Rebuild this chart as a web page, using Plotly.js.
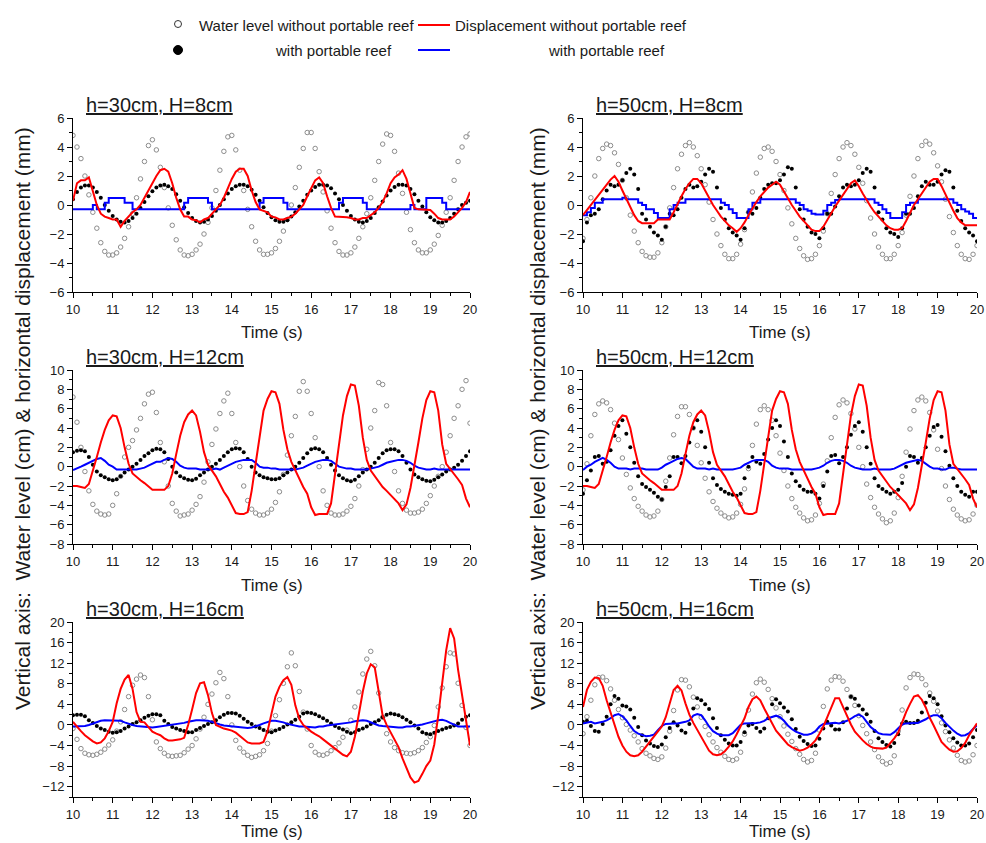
<!DOCTYPE html>
<html>
<head>
<meta charset="utf-8">
<script src="https://cdn.plot.ly/plotly-3.0.1.min.js"></script>
<style>
  html, body { margin: 0; padding: 0; background: #fff; }
  #chart { width: 986px; height: 843px; }
</style>
</head>
<body>
<div id="chart"></div>
<script>
// Sampling instants (s)
const time = [
  10.0,10.1,10.2,10.3,10.4,10.5,10.6,10.7,10.8,10.9,
  11.0,11.1,11.2,11.3,11.4,11.5,11.6,11.7,11.8,11.9,
  12.0,12.1,12.2,12.3,12.4,12.5,12.6,12.7,12.8,12.9,
  13.0,13.1,13.2,13.3,13.4,13.5,13.6,13.7,13.8,13.9,
  14.0,14.1,14.2,14.3,14.4,14.5,14.6,14.7,14.8,14.9,
  15.0,15.1,15.2,15.3,15.4,15.5,15.6,15.7,15.8,15.9,
  16.0,16.1,16.2,16.3,16.4,16.5,16.6,16.7,16.8,16.9,
  17.0,17.1,17.2,17.3,17.4,17.5,17.6,17.7,17.8,17.9,
  18.0,18.1,18.2,18.3,18.4,18.5,18.6,18.7,18.8,18.9,
  19.0,19.1,19.2,19.3,19.4,19.5,19.6,19.7,19.8,19.9,
  20.0];

// ---------- h=30cm, H=8cm ----------
const wl_h30_H8 = [
  4.8,4.0,3.2,2.0,0.7,-0.5,-1.6,-2.6,-3.2,-3.45,
  -3.45,-3.3,-2.9,-2.3,-1.5,-0.6,0.5,1.8,3.0,4.1,
  4.5,3.8,2.6,1.2,-0.2,-1.4,-2.4,-3.1,-3.45,-3.5,
  -3.4,-3.1,-2.7,-2.0,-1.2,-0.2,1.0,2.4,3.7,4.7,
  4.8,3.8,2.4,1.0,-0.3,-1.5,-2.5,-3.1,-3.4,-3.4,
  -3.3,-3.0,-2.5,-1.8,-1.0,0.0,1.2,2.6,3.9,5.0,
  5.0,3.9,2.3,0.9,-0.4,-1.6,-2.6,-3.2,-3.45,-3.45,
  -3.3,-2.9,-2.3,-1.5,-0.6,0.5,1.7,3.0,4.2,4.9,
  4.8,3.7,2.2,0.8,-0.5,-1.7,-2.6,-3.1,-3.3,-3.3,
  -3.1,-2.7,-2.1,-1.4,-0.5,0.5,1.7,3.0,4.0,4.7,
  4.9];
const wlReef_h30_H8 = [
  0.4,0.9,1.2,1.35,1.35,1.2,0.9,0.5,0.0,-0.4,
  -0.75,-1.0,-1.15,-1.2,-1.1,-0.9,-0.6,-0.2,0.2,0.6,
  0.95,1.2,1.35,1.4,1.3,1.1,0.75,0.3,-0.15,-0.55,
  -0.9,-1.1,-1.2,-1.15,-1.0,-0.75,-0.4,0.0,0.4,0.8,
  1.1,1.3,1.4,1.4,1.3,1.05,0.7,0.3,-0.15,-0.55,
  -0.85,-1.05,-1.15,-1.15,-1.05,-0.8,-0.5,-0.1,0.3,0.7,
  1.0,1.25,1.4,1.4,1.35,1.15,0.8,0.4,0.0,-0.4,
  -0.75,-1.0,-1.15,-1.2,-1.1,-0.9,-0.55,-0.15,0.25,0.65,
  1.0,1.25,1.4,1.4,1.35,1.1,0.75,0.3,-0.1,-0.5,
  -0.85,-1.05,-1.2,-1.2,-1.1,-0.9,-0.6,-0.3,0.0,0.15,
  0.3];
const disp_h30_H8 = [
  0.3,1.5,1.7,1.7,1.9,0.9,0.0,-0.6,-0.8,-0.9,
  -1.0,-1.0,-1.5,-1.1,-0.8,-0.5,-0.3,0.0,0.5,1.0,
  1.6,2.0,2.4,2.5,2.3,1.5,0.5,-0.3,-0.8,-0.8,
  -1.0,-1.05,-1.2,-1.0,-0.9,-0.6,-0.3,0.0,0.5,1.2,
  1.8,2.3,2.5,2.5,2.0,1.0,0.2,-0.3,-0.4,-0.5,
  -0.8,-0.85,-1.0,-1.0,-0.9,-0.8,-0.6,-0.3,0.0,0.6,
  1.2,1.7,1.9,1.5,0.6,-0.2,-0.8,-0.8,-0.85,-0.85,
  -0.9,-1.0,-1.0,-0.9,-0.9,-0.7,-0.5,-0.2,0.2,0.8,
  1.5,1.9,2.1,2.4,1.8,0.8,-0.2,-0.3,-0.3,-0.3,
  -0.35,-0.6,-0.9,-1.0,-1.0,-1.0,-0.8,-0.5,-0.2,0.2,
  0.9];
const dispReef_h30_H8 = [
  -0.3,-0.3,-0.3,-0.3,-0.3,0.0,-0.3,-0.3,0.15,0.48,
  0.48,0.48,0.48,0.15,0.15,-0.3,-0.3,-0.3,-0.3,-0.3,
  -0.3,-0.3,-0.3,-0.3,-0.3,-0.3,-0.3,-0.3,0.15,0.48,
  0.48,0.48,0.48,0.48,0.15,-0.3,-0.3,-0.3,-0.3,-0.3,
  -0.3,-0.3,-0.3,-0.3,-0.3,-0.3,-0.3,0.15,0.48,0.48,
  0.48,0.48,0.48,0.15,-0.3,-0.3,-0.3,-0.3,-0.3,-0.3,
  -0.3,-0.3,-0.3,-0.3,-0.3,-0.3,-0.3,0.15,0.48,0.48,
  0.48,0.48,0.48,0.15,-0.3,-0.3,-0.3,-0.3,-0.3,-0.3,
  -0.3,-0.3,-0.3,-0.3,-0.3,0.0,-0.3,-0.3,-0.3,0.48,
  0.48,0.48,0.48,0.15,-0.3,-0.3,-0.3,-0.3,-0.3,-0.3,
  -0.3];

// ---------- h=50cm, H=8cm ----------
const wl_h50_H8 = [
  -2.3,-1.0,0.5,2.0,3.2,3.9,4.2,4.1,3.6,2.8,
  1.7,0.5,-0.7,-1.8,-2.6,-3.2,-3.5,-3.6,-3.6,-3.3,
  -2.6,-1.5,-0.2,1.2,2.5,3.5,4.1,4.3,4.0,3.4,
  2.5,1.4,0.2,-1.0,-2.0,-2.8,-3.4,-3.7,-3.7,-3.4,
  -2.7,-1.7,-0.5,0.9,2.2,3.3,3.9,4.0,3.7,3.0,
  2.1,1.0,-0.2,-1.3,-2.3,-3.0,-3.5,-3.75,-3.7,-3.4,
  -2.8,-1.8,-0.6,0.8,2.1,3.2,4.0,4.3,4.1,3.5,
  2.6,1.5,0.3,-0.9,-2.0,-2.9,-3.4,-3.7,-3.7,-3.4,
  -2.8,-1.9,-0.7,0.6,2.0,3.2,4.1,4.4,4.2,3.6,
  2.7,1.6,0.4,-0.8,-1.9,-2.8,-3.4,-3.7,-3.75,-3.4,
  -2.8];
const wlReef_h50_H8 = [
  -2.5,-1.2,-0.7,-0.6,-0.3,0.4,1.0,1.4,1.3,1.4,
  1.7,2.2,2.5,2.1,1.1,-0.6,-1.0,-1.5,-1.9,-2.1,
  -2.4,-1.5,-0.6,-0.7,-0.3,0.5,1.1,1.4,1.2,1.3,
  1.6,2.1,2.5,2.3,1.2,-0.2,-1.0,-1.6,-1.9,-2.1,
  -2.4,-1.6,-0.5,-0.6,-0.2,0.5,1.1,1.4,1.5,1.5,
  1.7,2.1,2.6,2.5,1.2,-0.3,-1.0,-1.5,-1.9,-2.0,
  -2.3,-1.6,-0.6,-0.6,-0.1,0.6,1.2,1.4,1.3,1.4,
  1.7,2.2,2.5,2.3,1.2,-0.5,-1.0,-1.6,-1.9,-2.0,
  -2.2,-1.6,-0.6,-0.6,-0.2,0.6,1.3,1.6,1.4,1.4,
  1.6,2.1,2.4,2.3,1.2,-0.4,-1.1,-1.6,-1.9,-2.1,
  -2.5];
const disp_h50_H8 = [
  -0.7,-0.35,0.0,0.35,0.7,1.05,1.4,1.75,2.0,1.6,
  1.0,0.4,-0.2,-0.7,-1.1,-1.25,-1.25,-1.25,-1.25,-1.0,
  -1.0,-1.0,-1.0,-0.5,0.1,0.6,1.1,1.5,1.8,1.8,
  1.5,1.0,0.4,0.0,-0.4,-0.8,-1.1,-1.4,-1.6,-1.85,
  -1.6,-1.2,-0.7,-0.2,0.2,0.6,0.9,1.2,1.4,1.6,
  1.4,0.9,0.4,0.0,-0.4,-0.8,-1.1,-1.4,-1.7,-1.8,
  -1.8,-1.5,-1.0,-0.5,-0.1,0.3,0.7,1.1,1.5,1.7,
  1.3,0.8,0.3,-0.1,-0.5,-0.8,-1.1,-1.4,-1.6,-1.7,
  -1.7,-1.6,-1.1,-0.5,0.0,0.4,0.8,1.2,1.6,1.8,
  1.8,1.3,0.7,0.1,-0.4,-0.9,-1.2,-1.4,-1.4,-1.4,
  -1.4];
const dispReef_h50_H8 = [
  -0.7,-0.5,-0.2,0.15,0.15,0.4,0.4,0.4,0.4,0.4,
  0.5,0.4,0.4,0.4,0.15,0.0,-0.3,-0.3,-0.55,-0.9,
  -0.9,-0.9,-0.3,0.0,0.15,0.15,0.4,0.4,0.4,0.4,
  0.4,0.4,0.4,0.4,0.4,0.15,0.0,-0.3,-0.55,-0.9,
  -0.9,-0.9,-0.3,0.15,0.15,0.4,0.4,0.4,0.4,0.4,
  0.4,0.4,0.4,0.4,0.15,0.0,-0.3,-0.4,-0.6,-0.65,
  -0.65,-0.4,0.0,0.15,0.35,0.4,0.4,0.4,0.4,0.4,
  0.4,0.4,0.4,0.4,0.15,0.0,-0.3,-0.55,-0.9,-0.9,
  -0.9,-0.5,0.0,0.15,0.15,0.4,0.4,0.4,0.4,0.4,
  0.4,0.4,0.4,0.4,0.15,0.0,-0.3,-0.45,-0.6,-0.9,
  -0.9];

// ---------- h=30cm, H=12cm ----------
const wl_h30_H12 = [
  7.2,4.6,2.0,-0.5,-2.5,-3.9,-4.6,-4.9,-5.0,-4.9,
  -4.0,-2.8,-1.0,1.0,2.0,2.7,3.8,5.0,6.5,7.5,
  7.7,5.6,2.5,0.5,-2.0,-3.8,-4.6,-5.1,-5.0,-4.9,
  -4.5,-3.9,-3.1,-1.6,0.5,2.3,3.9,5.5,6.8,7.6,
  5.5,2.5,0.0,-2.0,-3.5,-4.4,-4.8,-5.0,-5.0,-4.8,
  -4.4,-3.7,-2.6,-0.8,1.2,3.2,5.2,7.8,8.8,7.8,
  5.5,3.0,0.0,-2.5,-4.0,-4.8,-5.0,-5.0,-4.9,-4.6,
  -4.1,-3.3,-2.0,-0.3,1.8,4.0,5.8,8.7,8.5,6.3,
  2.5,-0.5,-2.5,-3.8,-4.5,-4.8,-4.8,-4.7,-4.4,-3.8,
  -3.0,-2.0,-1.0,0.0,1.5,3.2,5.0,6.3,8.0,8.9,
  4.5];
const wlReef_h30_H12 = [
  1.5,1.65,1.7,1.6,1.0,0.2,-0.5,-0.9,-1.1,-1.3,
  -1.4,-1.3,-1.0,-0.6,-0.3,0.0,0.3,0.7,1.1,1.4,
  1.7,1.85,1.8,1.5,0.8,0.0,-0.6,-1.0,-1.2,-1.35,
  -1.4,-1.25,-0.9,-0.6,-0.3,0.0,0.3,0.7,1.1,1.5,
  1.8,1.9,1.85,1.5,0.8,0.0,-0.6,-0.9,-1.1,-1.2,
  -1.3,-1.3,-1.2,-0.9,-0.6,-0.3,0.0,0.4,0.9,1.4,
  1.8,1.9,1.8,1.5,0.9,0.2,-0.4,-0.9,-1.2,-1.4,
  -1.5,-1.35,-1.0,-0.6,-0.3,0.0,0.4,0.9,1.4,1.7,
  1.8,1.8,1.6,1.1,0.4,-0.3,-0.8,-1.1,-1.3,-1.45,
  -1.5,-1.35,-1.1,-0.8,-0.5,-0.3,-0.1,0.2,0.6,1.1,
  1.6];
// Displacement without the reef for H=12cm (same record in both depth panels)
const disp_H12 = [
  -2.0,-2.0,-2.1,-2.2,-1.8,-0.5,1.0,2.5,3.8,4.8,
  5.3,5.2,4.0,2.0,0.3,-0.7,-1.1,-1.4,-1.7,-2.1,
  -2.4,-2.4,-2.4,-2.4,-2.0,-0.7,1.3,3.2,4.6,5.4,
  5.8,5.3,3.6,1.5,0.2,-0.4,-1.0,-1.8,-2.6,-3.2,
  -4.0,-4.8,-4.9,-4.9,-4.7,-2.5,0.3,3.1,5.8,7.0,
  7.8,7.7,6.5,3.8,1.8,0.5,-0.4,-1.3,-2.1,-2.8,
  -4.2,-5.0,-4.9,-4.9,-4.9,-3.8,-0.7,2.3,5.3,7.3,
  8.5,8.4,6.3,3.0,0.7,-0.4,-1.0,-1.6,-2.1,-2.5,
  -2.9,-3.3,-3.8,-4.5,-3.9,-2.2,0.0,2.5,5.0,6.9,
  7.8,7.7,5.8,2.3,0.3,-0.2,-0.8,-1.3,-1.9,-3.3,
  -4.2];
const dispReef_h30_H12 = [
  -0.35,-0.2,0.0,0.2,0.4,0.6,0.8,0.9,0.6,0.2,
  0.0,-0.3,-0.3,-0.35,-0.35,-0.3,-0.3,-0.2,-0.1,0.1,
  0.3,0.5,0.5,0.7,0.9,0.8,0.5,0.1,-0.1,-0.2,
  -0.2,-0.2,-0.3,-0.3,-0.3,-0.3,-0.2,-0.3,-0.1,0.1,
  0.3,0.5,0.6,0.7,0.7,0.7,0.4,0.0,-0.1,-0.1,
  -0.2,-0.2,-0.3,-0.3,-0.3,-0.35,-0.3,-0.2,-0.1,0.1,
  0.3,0.5,0.6,0.7,0.7,0.6,0.3,0.0,-0.1,-0.2,
  -0.2,-0.3,-0.3,-0.3,-0.3,-0.2,-0.1,0.0,0.2,0.4,
  0.5,0.6,0.7,0.7,0.6,0.4,0.1,-0.1,-0.2,-0.3,
  -0.3,-0.2,-0.3,-0.3,-0.3,-0.3,-0.3,-0.3,-0.3,-0.3,
  -0.3];

// ---------- h=50cm, H=12cm ----------
const wl_h50_H12 = [
  -2.4,0.3,3.2,5.4,6.5,6.8,6.6,5.9,4.5,2.8,
  0.9,-0.8,-2.2,-3.3,-4.1,-4.6,-5.0,-5.2,-5.1,-4.6,
  -3.4,-1.5,0.9,3.3,5.2,6.2,6.2,5.4,4.0,2.2,
  0.4,-1.2,-2.6,-3.6,-4.3,-4.8,-5.1,-5.3,-5.2,-4.8,
  -3.9,-2.3,-0.2,2.2,4.4,5.9,6.3,5.9,4.8,3.2,
  1.4,-0.4,-2.0,-3.3,-4.2,-4.8,-5.3,-5.6,-5.5,-5.0,
  -3.8,-1.8,0.6,3.0,5.1,6.4,6.9,6.6,5.5,3.9,
  2.0,0.0,-1.8,-3.2,-4.2,-4.9,-5.4,-5.8,-5.6,-4.8,
  -3.2,-1.0,1.5,3.9,5.8,6.9,7.2,6.8,5.6,3.8,
  1.8,-0.2,-2.0,-3.4,-4.4,-5.0,-5.4,-5.6,-5.5,-4.9,
  -4.0];
const wlReef_h50_H12 = [
  -2.8,-1.4,-0.4,1.0,1.1,0.3,0.5,1.7,3.2,4.2,
  4.8,3.4,2.0,0.4,-1.0,-1.8,-2.1,-2.4,-2.7,-3.1,
  -3.4,-2.1,-1.0,1.0,1.0,0.35,1.1,2.5,4.0,4.8,
  3.6,2.0,0.4,-1.2,-1.9,-2.3,-2.6,-2.8,-2.9,-3.0,
  -2.8,-1.2,0.0,1.0,0.5,0.3,1.3,2.8,4.0,4.8,
  4.2,2.6,1.0,-0.7,-1.5,-2.0,-2.4,-2.6,-2.6,-2.8,
  -3.3,-2.0,-0.5,1.1,1.2,0.35,1.0,2.0,3.3,4.2,
  4.6,3.6,2.0,0.3,-1.2,-2.0,-2.3,-2.6,-2.8,-2.6,
  -2.4,-1.7,0.0,1.1,1.0,0.4,0.9,2.0,3.2,4.1,
  4.3,3.1,1.6,0.1,-1.2,-2.0,-2.6,-2.9,-3.1,-2.6,
  -2.6];
const dispReef_h50_H12 = [
  -0.35,0.0,0.2,0.5,0.7,0.9,0.7,0.4,0.0,-0.2,
  -0.2,-0.2,-0.3,-0.2,-0.2,-0.2,-0.3,-0.3,-0.3,-0.3,
  -0.1,0.2,0.4,0.6,0.8,0.9,0.8,0.4,0.0,-0.2,
  -0.2,-0.2,-0.3,-0.2,-0.3,-0.3,-0.3,-0.3,-0.3,-0.2,
  -0.1,0.2,0.4,0.6,0.7,0.7,0.7,0.5,0.1,-0.1,
  -0.2,-0.2,-0.2,-0.3,-0.3,-0.3,-0.3,-0.3,-0.3,-0.2,
  -0.1,0.1,0.4,0.6,0.7,0.7,0.6,0.4,0.1,-0.1,
  -0.2,-0.3,-0.3,-0.3,-0.2,-0.3,-0.3,-0.3,-0.3,-0.2,
  0.0,0.2,0.4,0.5,0.6,0.7,0.6,0.3,0.0,-0.2,
  -0.2,-0.3,-0.3,-0.1,-0.1,-0.2,-0.3,-0.3,-0.3,-0.3,
  -0.3];

// ---------- h=30cm, H=16cm ----------
const wl_h30_H16 = [
  -0.7,-2.8,-4.6,-5.5,-5.8,-5.9,-5.7,-5.3,-4.7,-3.9,
  -2.9,-1.2,0.6,3.0,5.5,7.7,8.9,9.7,9.2,5.5,
  1.0,-3.3,-4.6,-5.5,-6.0,-6.1,-6.0,-5.9,-5.4,-4.7,
  -4.0,-2.7,-0.8,1.5,4.0,6.0,8.2,10.2,9.0,5.5,
  0.0,-3.0,-4.5,-5.3,-5.9,-6.3,-6.1,-5.8,-5.0,-3.6,
  -1.2,1.8,4.9,8.1,11.3,14.0,11.5,6.5,2.5,-0.8,
  -4.0,-5.3,-5.8,-5.9,-5.6,-5.0,-4.4,-3.5,-2.4,-1.0,
  0.9,3.5,6.4,9.9,12.8,14.3,11.5,6.2,1.5,-1.7,
  -3.3,-4.4,-5.0,-5.4,-5.5,-5.6,-5.4,-5.0,-4.4,-3.4,
  -2.3,-0.1,3.5,7.2,11.3,14.0,13.8,8.1,3.8,-0.5,
  -4.0];
const wlReef_h30_H16 = [
  1.9,2.0,2.0,1.7,0.9,0.4,-0.2,-0.7,-1.0,-1.3,
  -1.5,-1.4,-1.2,-0.7,-0.3,0.2,0.5,0.9,1.4,1.8,
  2.1,2.1,1.9,0.8,0.2,-0.4,-0.7,-1.0,-1.2,-1.4,
  -1.4,-1.0,-0.6,-0.2,0.2,0.5,0.9,1.5,2.0,2.3,
  2.3,2.2,1.8,1.2,0.6,0.2,-0.3,-0.6,-1.0,-1.3,
  -1.4,-1.1,-0.8,-0.4,0.1,0.5,1.0,1.6,2.2,2.4,
  2.3,2.1,1.7,1.3,0.8,0.3,-0.2,-0.6,-0.9,-1.3,
  -1.6,-1.4,-1.0,-0.7,-0.3,0.2,0.5,0.9,1.5,2.0,
  2.2,2.1,1.9,1.5,1.0,0.5,-0.1,-0.7,-1.4,-1.7,
  -1.8,-1.5,-1.2,-0.9,-0.6,-0.4,-0.1,0.3,1.0,1.6,
  1.9];
const disp_h30_H16 = [
  0.6,-0.4,-1.2,-2.0,-2.6,-3.2,-3.6,-3.4,-2.6,-1.2,
  0.6,4.2,7.0,8.8,9.7,7.0,2.5,0.6,0.5,-0.5,
  -1.3,-1.7,-2.0,-2.6,-3.0,-3.0,-2.9,-2.8,-2.5,0.0,
  3.0,6.2,8.1,8.3,5.8,2.3,0.0,-0.4,-0.7,-0.9,
  -1.1,-1.5,-2.1,-2.7,-3.4,-3.6,-3.6,-3.6,-3.3,-1.2,
  2.2,5.5,7.4,8.7,9.3,7.8,3.8,1.2,0.0,-0.7,
  -1.3,-1.8,-2.2,-2.8,-3.4,-4.0,-4.6,-5.2,-5.8,-6.1,
  -5.2,-2.3,2.5,6.5,10.0,11.8,11.2,6.2,1.8,0.0,
  -1.5,-2.8,-4.3,-6.5,-8.4,-10.2,-11.2,-10.9,-9.5,-8.0,
  -6.9,-3.8,1.8,8.0,14.5,18.8,16.8,10.7,5.5,0.5,
  -4.0];
const dispReef_h30_H16 = [
  -0.3,-0.3,-0.3,-0.2,0.0,0.3,0.6,0.8,0.9,0.9,
  0.9,0.9,0.8,0.5,0.2,0.0,-0.2,-0.3,-0.4,-0.5,
  -0.5,-0.4,-0.3,-0.1,0.0,0.0,0.1,0.2,0.4,0.6,
  0.8,0.9,0.9,0.9,0.8,0.6,0.3,0.1,-0.1,-0.2,
  -0.3,-0.4,-0.5,-0.6,-0.6,-0.5,-0.3,0.0,0.3,0.6,
  0.8,0.8,0.7,0.5,0.2,0.0,-0.2,-0.3,-0.3,-0.4,
  -0.4,-0.5,-0.3,-0.3,-0.1,0.0,0.0,0.1,0.2,0.4,
  0.5,0.7,0.8,0.9,0.8,0.5,0.2,-0.1,-0.2,-0.3,
  -0.3,-0.4,-0.5,-0.5,-0.3,-0.3,-0.2,0.0,0.1,0.3,
  0.5,0.8,0.9,1.0,0.8,0.4,0.0,-0.3,-0.3,-0.3,
  -0.3];

// ---------- h=50cm, H=16cm ----------
const wl_h50_H16 = [
  -1.7,1.6,4.8,7.8,9.2,9.3,8.6,7.0,4.8,3.0,
  1.4,0.1,-1.0,-2.1,-3.3,-4.6,-5.5,-6.0,-6.5,-6.7,
  -6.2,-4.5,-1.2,2.8,6.8,8.8,8.7,7.4,5.4,3.5,
  1.5,-0.3,-1.9,-3.3,-4.4,-5.3,-6.1,-6.7,-6.9,-6.6,
  -5.3,-1.8,2.9,6.0,8.2,8.9,8.3,6.9,5.1,3.3,
  1.6,-0.2,-1.8,-3.2,-4.6,-5.7,-6.7,-7.2,-6.9,-5.5,
  -1.0,3.6,7.0,8.7,9.4,9.3,8.5,6.9,5.5,3.8,
  1.8,-0.1,-1.7,-3.3,-4.8,-6.2,-7.1,-7.6,-7.3,-6.0,
  -1.2,2.9,7.2,9.2,9.9,9.8,9.0,7.8,6.2,4.6,
  2.7,0.4,-1.3,-2.9,-4.5,-5.9,-6.9,-7.2,-7.0,-5.8,
  -4.0];
const wlReef_h50_H16 = [
  0.6,0.8,-0.2,-1.2,-1.3,0.2,1.6,4.0,5.6,5.1,
  3.8,3.6,3.0,1.4,-0.4,-2.0,-3.0,-3.6,-4.1,-4.3,
  -3.8,-2.4,-0.6,0.5,-0.1,-1.1,-1.5,0.2,3.2,5.2,
  4.8,4.0,3.1,1.3,-0.6,-2.0,-2.9,-3.6,-4.0,-4.0,
  -3.3,-1.4,-0.1,0.2,-0.6,-1.3,-0.7,1.3,4.0,5.0,
  4.2,3.4,2.6,1.1,-0.8,-2.3,-3.1,-3.7,-4.1,-4.0,
  -2.7,-0.7,0.6,-0.1,-0.9,-0.9,0.5,3.2,5.5,5.1,
  3.8,3.0,2.1,0.6,-1.2,-2.6,-3.3,-3.9,-4.2,-3.5,
  -1.8,0.3,0.6,0.4,0.4,0.8,2.4,4.3,5.6,5.2,
  4.0,1.7,-0.1,-1.4,-2.6,-3.4,-4.0,-4.0,-3.6,-2.4,
  -1.0];
const disp_h50_H16 = [
  3.5,6.8,8.4,9.2,9.1,7.6,4.8,2.3,-0.2,-2.3,
  -4.0,-5.2,-5.9,-6.1,-5.9,-5.2,-4.2,-3.2,-2.3,-1.2,
  -0.3,1.5,4.4,6.8,7.6,6.7,4.2,2.0,0.4,-1.0,
  -2.4,-3.8,-5.0,-5.7,-5.9,-5.7,-5.1,-4.2,-3.2,-1.8,
  -0.3,1.3,3.5,5.0,5.5,4.8,3.2,1.7,0.2,-1.1,
  -2.0,-2.9,-3.8,-4.3,-4.7,-5.0,-4.8,-4.4,-3.8,-3.0,
  -1.7,-0.3,1.5,3.5,5.2,5.2,3.5,1.7,0.1,-1.3,
  -2.2,-3.0,-3.7,-4.2,-4.5,-4.6,-4.6,-4.4,-3.6,-2.6,
  -1.5,0.6,2.5,4.1,5.5,5.8,4.9,3.4,1.4,-0.1,
  -1.7,-3.3,-4.1,-4.8,-5.2,-5.1,-4.5,-3.5,-2.0,-0.8,
  0.3];
const dispReef_h50_H16 = [
  0.3,0.5,0.6,0.3,0.4,0.6,0.9,1.3,1.9,2.1,
  1.7,0.9,-0.2,-1.2,-1.7,-2.0,-2.2,-2.1,-1.9,-1.0,
  -0.2,0.2,0.3,0.3,0.3,0.4,0.6,0.9,1.8,2.1,
  1.9,0.9,-0.3,-1.2,-1.7,-2.0,-2.0,-2.0,-1.6,-0.7,
  0.0,0.3,0.3,0.3,0.4,0.5,0.8,1.3,1.6,1.8,
  1.5,0.8,-0.1,-0.8,-1.3,-1.6,-1.9,-1.9,-1.7,-1.2,
  -0.3,0.2,0.3,0.4,0.4,0.3,0.5,0.8,1.2,1.7,
  2.0,1.6,0.6,-0.4,-1.0,-1.6,-1.8,-1.9,-1.9,-1.4,
  -0.6,0.1,0.3,0.4,0.4,0.4,0.7,1.1,1.6,1.9,
  1.9,1.3,0.4,-0.4,-1.1,-1.7,-2.1,-2.0,-1.6,-0.8,
  -0.1];

// Panel labels and legend texts
const panelTitles = ['h=30cm, H=8cm','h=50cm, H=8cm','h=30cm, H=12cm','h=50cm, H=12cm','h=30cm, H=16cm','h=50cm, H=16cm'];
const legendLabels = ['Water level without portable reef','with portable reef','Displacement without portable reef','with portable reef'];
const xTitle = 'Time (s)';
const yTitle = 'Vertical axis:  Water level (cm) &amp; horizontal displacement (mm)';

const panels = [
  {wl: wl_h30_H8,  wlR: wlReef_h30_H8,  d: disp_h30_H8, dR: dispReef_h30_H8,  yr: [-6, 6],   dt: 2, shape: 'hv'},
  {wl: wl_h50_H8,  wlR: wlReef_h50_H8,  d: disp_h50_H8, dR: dispReef_h50_H8,  yr: [-6, 6],   dt: 2, shape: 'hv'},
  {wl: wl_h30_H12, wlR: wlReef_h30_H12, d: disp_H12,    dR: dispReef_h30_H12, yr: [-8, 10],  dt: 2, shape: 'linear'},
  {wl: wl_h50_H12, wlR: wlReef_h50_H12, d: disp_H12,    dR: dispReef_h50_H12, yr: [-8, 10],  dt: 2, shape: 'linear'},
  {wl: wl_h30_H16, wlR: wlReef_h30_H16, d: disp_h30_H16, dR: dispReef_h30_H16, yr: [-14, 20], dt: 4, shape: 'linear'},
  {wl: wl_h50_H16, wlR: wlReef_h50_H16, d: disp_h50_H16, dR: dispReef_h50_H16, yr: [-14, 20], dt: 4, shape: 'linear'}
];

// Page geometry (pixels) -> paper fractions
const W = 986, H = 843;
const px = v => v / W;
const py = v => 1 - v / H;
const colPx = [[73, 470], [583, 977]];
const rowPx = [[118, 292], [370, 544], [622, 797]];

const FONT = 'Liberation Sans, Arial, Helvetica, sans-serif';
const INK = '#1a1a1a';

const traces = [];
const layout = {
  width: W, height: H,
  margin: {l: 0, r: 0, t: 0, b: 0},
  paper_bgcolor: '#fff', plot_bgcolor: '#fff',
  showlegend: false,
  font: {family: FONT, color: INK},
  annotations: [], shapes: []
};

panels.forEach((p, i) => {
  const n = i + 1;
  const sfx = n === 1 ? '' : String(n);
  const col = i % 2, row = Math.floor(i / 2);
  const xa = 'x' + sfx, ya = 'y' + sfx;

  traces.push({
    type: 'scatter', mode: 'markers', x: time, y: p.wl, xaxis: xa, yaxis: ya,
    marker: {symbol: 'circle-open', size: 4.5, color: '#8c8c8c', line: {width: 1}}
  });
  traces.push({
    type: 'scatter', mode: 'markers', x: time, y: p.wlR, xaxis: xa, yaxis: ya,
    marker: {symbol: 'circle', size: 4, color: '#000'}
  });
  traces.push({
    type: 'scatter', mode: 'lines', x: time, y: p.dR, xaxis: xa, yaxis: ya,
    line: {color: '#0000ff', width: 2, shape: p.shape}
  });
  traces.push({
    type: 'scatter', mode: 'lines', x: time, y: p.d, xaxis: xa, yaxis: ya,
    line: {color: '#ff0000', width: 2}
  });

  const cx = colPx[col], ry = rowPx[row];
  layout['xaxis' + sfx] = {
    domain: [px(cx[0]), px(cx[1])], anchor: ya,
    range: [10, 20], tick0: 10, dtick: 1,
    ticks: 'outside', ticklen: 5, tickwidth: 1, tickcolor: '#000',
    showline: true, linecolor: '#000', linewidth: 1,
    showgrid: false, zeroline: false,
    ticklabeloverflow: 'allow',
    tickfont: {size: 13, color: INK},
    minor: {ticks: 'outside', ticklen: 3, dtick: 0.5, tickcolor: '#000', showgrid: false}
  };
  layout['yaxis' + sfx] = {
    domain: [py(ry[1]), py(ry[0])], anchor: xa,
    range: p.yr, tick0: 0, dtick: p.dt,
    ticks: 'outside', ticklen: 5, tickwidth: 1, tickcolor: '#000',
    showline: true, linecolor: '#000', linewidth: 1,
    showgrid: false, zeroline: false,
    tickfont: {size: 13, color: INK},
    minor: {ticks: 'outside', ticklen: 3, dtick: p.dt / 2, tickcolor: '#000', showgrid: false}
  };

  // underlined panel heading
  layout.annotations.push({
    xref: 'paper', yref: 'paper', x: px(cx[0] + 11), y: py(ry[0] - 13),
    xanchor: 'left', yanchor: 'middle', showarrow: false,
    text: '<u>' + panelTitles[i] + '</u>', font: {size: 20, color: INK}
  });
  // x-axis caption
  const capY = row === 2 ? ry[1] + 34 : ry[1] + 41;
  layout.annotations.push({
    xref: 'paper', yref: 'paper', x: px((cx[0] + cx[1]) / 2), y: py(capY),
    xanchor: 'center', yanchor: 'middle', showarrow: false,
    text: xTitle, font: {size: 17, color: INK}
  });
});

// shared vertical caption on each column
[22, 537].forEach(xc => {
  layout.annotations.push({
    xref: 'paper', yref: 'paper', x: px(xc), y: py(419),
    xanchor: 'center', yanchor: 'middle', textangle: -90, showarrow: false,
    text: yTitle, font: {size: 21, color: INK}
  });
});

// legend block
const legTexts = [
  {t: legendLabels[0], x: 197, y: 25},
  {t: legendLabels[1], x: 273, y: 50},
  {t: legendLabels[2], x: 453, y: 25},
  {t: legendLabels[3], x: 546, y: 50}
];
legTexts.forEach(l => layout.annotations.push({
  xref: 'paper', yref: 'paper', x: px(l.x), y: py(l.y),
  xanchor: 'left', yanchor: 'middle', showarrow: false,
  text: l.t, font: {size: 15, color: INK}
}));
const dot = (cxp, cyp, r, fill, stroke) => ({
  type: 'circle', xref: 'paper', yref: 'paper',
  x0: px(cxp - r), x1: px(cxp + r), y0: py(cyp + r), y1: py(cyp - r),
  fillcolor: fill, line: {color: stroke, width: 1}
});
layout.shapes.push(dot(178, 24, 3.5, 'rgba(0,0,0,0)', '#333'));
layout.shapes.push(dot(178, 50, 4.5, '#000', '#000'));
layout.shapes.push({type: 'line', xref: 'paper', yref: 'paper', x0: px(418), x1: px(450), y0: py(25), y1: py(25), line: {color: '#ff0000', width: 2}});
layout.shapes.push({type: 'line', xref: 'paper', yref: 'paper', x0: px(418), x1: px(450), y0: py(50), y1: py(50), line: {color: '#0000ff', width: 2}});

Plotly.newPlot('chart', traces, layout, {staticPlot: true, displayModeBar: false});
</script>
</body>
</html>
